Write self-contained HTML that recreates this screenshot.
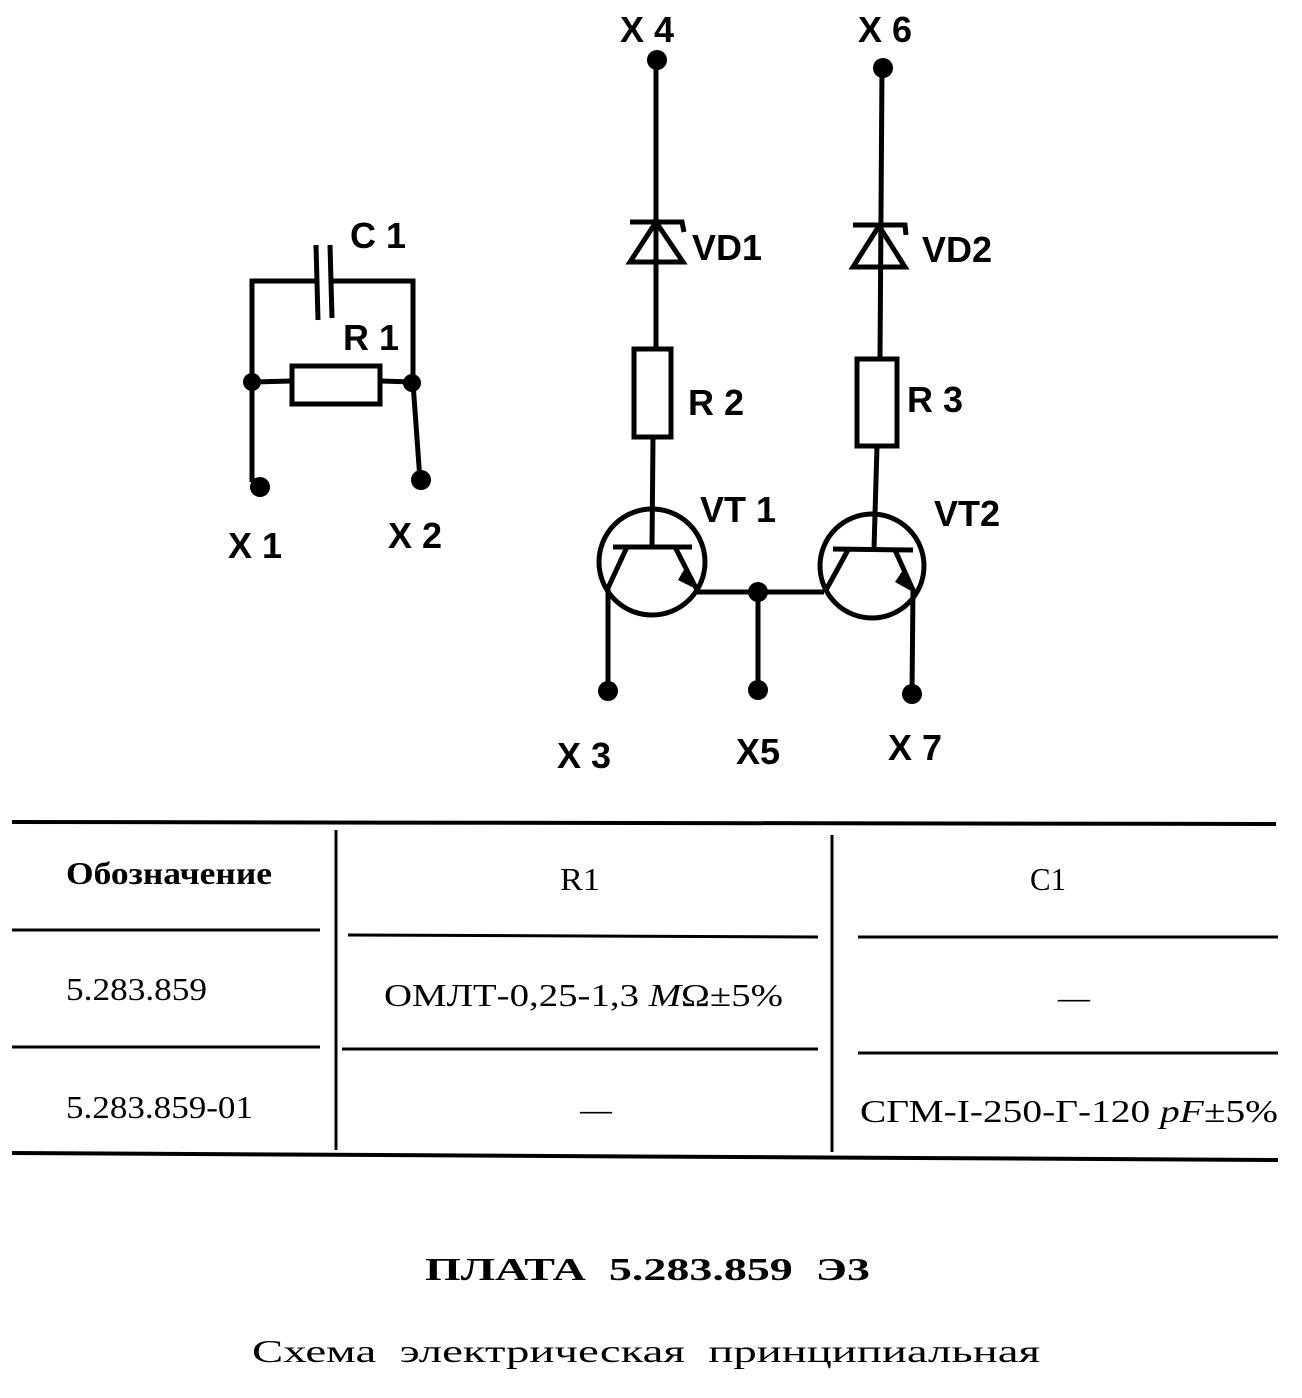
<!DOCTYPE html>
<html><head><meta charset="utf-8"><style>
html,body{margin:0;padding:0;background:#fff}
svg{display:block}
.l{font-family:"Liberation Sans",sans-serif;font-weight:bold;font-size:36px;fill:#000}
.t{font-family:"Liberation Serif","Noto Serif CJK SC",serif;font-size:32px;fill:#000}
</style></head><body>
<svg width="1302" height="1398" viewBox="0 0 1302 1398" xmlns="http://www.w3.org/2000/svg">
<g stroke="#000" stroke-width="5" fill="none">
<polyline points="252,482 252,281 316,281"/>
<polyline points="330,281 413,281 413,383 420,480"/>
<line x1="316" y1="245" x2="318" y2="320"/>
<line x1="330" y1="245" x2="332" y2="318"/>
<line x1="252" y1="382" x2="291" y2="381"/>
<line x1="380" y1="381" x2="413" y2="382"/>
<rect x="292" y="366" width="88" height="38"/>
<line x1="656" y1="60" x2="656" y2="349"/>
<polyline points="630,222 682,222 684,232"/>
<polygon points="656,222 630,262 683,262"/>
<rect x="634" y="349" width="37" height="88"/>
<line x1="653" y1="437" x2="652" y2="547"/>
<line x1="882" y1="68" x2="880" y2="359"/>
<polyline points="853,225 905,225 906,235"/>
<polygon points="879,226 853,267 905,267"/>
<rect x="857" y="359" width="40" height="87"/>
<line x1="877" y1="446" x2="874" y2="549"/>
<circle cx="652" cy="562" r="53"/>
<line x1="613" y1="547" x2="692" y2="547"/>
<polyline points="627,547 608,588 608,690"/>
<line x1="675" y1="547" x2="697" y2="590"/>
<line x1="697" y1="592" x2="824" y2="592"/>
<line x1="758" y1="592" x2="758" y2="690"/>
<circle cx="872" cy="566" r="52"/>
<line x1="833" y1="549" x2="913" y2="550"/>
<line x1="848" y1="550" x2="826" y2="590"/>
<polyline points="895,550 913,590 912,693"/>
<line x1="12" y1="822" x2="1276" y2="824" stroke-width="4"/>
<line x1="12" y1="930" x2="320" y2="930" stroke-width="3"/>
<line x1="348" y1="935" x2="818" y2="937" stroke-width="3"/>
<line x1="858" y1="937" x2="1278" y2="937" stroke-width="3"/>
<line x1="12" y1="1047" x2="320" y2="1047" stroke-width="3"/>
<line x1="342" y1="1049" x2="818" y2="1049" stroke-width="3"/>
<line x1="858" y1="1053" x2="1278" y2="1053" stroke-width="3"/>
<line x1="12" y1="1153" x2="1278" y2="1160" stroke-width="4"/>
<line x1="336" y1="830" x2="336" y2="1150" stroke-width="3"/>
<line x1="832" y1="835" x2="832" y2="1152" stroke-width="3"/>
</g>
<g fill="#000">
<polygon points="685,568 698,590 678,580"/>
<polygon points="903,570 913,592 895,582"/>
<circle cx="252" cy="382" r="9"/><circle cx="412" cy="383" r="9"/>
<circle cx="260" cy="487" r="10"/><circle cx="421" cy="480" r="10"/>
<circle cx="657" cy="60" r="10"/><circle cx="883" cy="68" r="10"/>
<circle cx="758" cy="592" r="10"/>
<circle cx="608" cy="691" r="10"/><circle cx="758" cy="690" r="10"/><circle cx="912" cy="694" r="10"/>
</g>
<text class="l" x="620" y="42">X 4</text>
<text class="l" x="858" y="42">X 6</text>
<text class="l" x="350" y="248">C 1</text>
<text class="l" x="343" y="350">R 1</text>
<text class="l" x="692" y="260">VD1</text>
<text class="l" x="922" y="262">VD2</text>
<text class="l" x="688" y="415">R 2</text>
<text class="l" x="907" y="412">R 3</text>
<text class="l" x="700" y="522">VT 1</text>
<text class="l" x="934" y="526">VT2</text>
<text class="l" x="228" y="558">X 1</text>
<text class="l" x="388" y="548">X 2</text>
<text class="l" x="557" y="768">X 3</text>
<text class="l" x="736" y="764">X5</text>
<text class="l" x="888" y="760">X 7</text>
<text class="t" x="66" y="884" font-weight="bold" font-size="30" textLength="206" lengthAdjust="spacingAndGlyphs">Обозначение</text>
<text class="t" x="560" y="890" textLength="40" lengthAdjust="spacingAndGlyphs">R1</text>
<text class="t" x="1030" y="890" textLength="36" lengthAdjust="spacingAndGlyphs">C1</text>
<text class="t" x="66" y="1000" textLength="141" lengthAdjust="spacingAndGlyphs">5.283.859</text>
<text class="t" x="384" y="1006" textLength="399" lengthAdjust="spacingAndGlyphs">ОМЛТ-0,25-1,3 <tspan font-style="italic">M</tspan>Ω±5%</text>
<text class="t" x="1058" y="1008">—</text>
<text class="t" x="66" y="1118" textLength="187" lengthAdjust="spacingAndGlyphs">5.283.859-01</text>
<text class="t" x="580" y="1120">—</text>
<text class="t" x="860" y="1122" textLength="418" lengthAdjust="spacingAndGlyphs">СГМ-I-250-Г-120 <tspan font-style="italic">pF</tspan>±5%</text>
<text class="t" x="425" y="1280" font-weight="bold" font-size="40" xml:space="preserve" textLength="445" lengthAdjust="spacingAndGlyphs">ПЛАТА  5.283.859  Э3</text>
<text class="t" x="252" y="1362" font-size="40" xml:space="preserve" textLength="788" lengthAdjust="spacingAndGlyphs">Схема  электрическая  принципиальная</text>
</svg>
</body></html>
